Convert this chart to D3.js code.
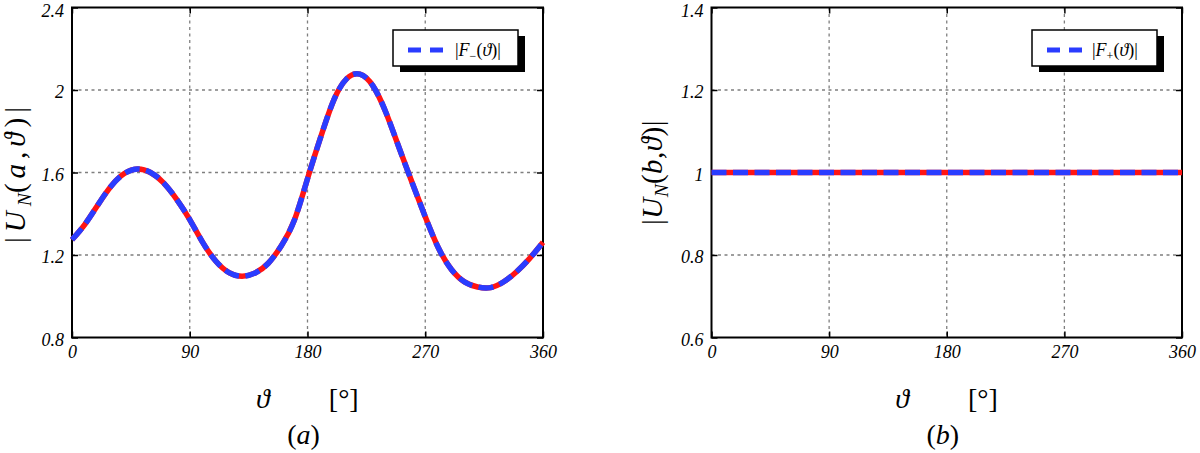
<!DOCTYPE html>
<html><head><meta charset="utf-8">
<script src="https://cdn.jsdelivr.net/npm/d3@7/dist/d3.min.js"></script>
<style>
body{margin:0;background:#fff;}
svg{display:block;}
text{font-family:"Liberation Serif","Times New Roman","DejaVu Serif",serif;}
</style></head>
<body><svg id="c" width="1200" height="453"></svg>
<script>
// ---- data ----
const thetaDeg = [0,10,20,30,40,50,60,70,80,90,100,110,120,130,140,150,160,170,180,190,200,210,220,230,240,250,260,270,280,290,300,310,320,330,340,350,360];
const fMinus   = [1.274,1.35,1.445,1.535,1.595,1.617,1.60,1.55,1.47,1.372,1.26,1.17,1.115,1.097,1.113,1.16,1.245,1.37,1.57,1.77,1.95,2.055,2.077,2.02,1.89,1.72,1.55,1.385,1.235,1.13,1.07,1.045,1.042,1.07,1.12,1.185,1.262];
const fPlus    = [1,1,1,1,1,1,1,1,1,1,1,1,1,1,1,1,1,1,1,1,1,1,1,1,1,1,1,1,1,1,1,1,1,1,1,1,1];
const xTicks = [0,90,180,270,360];
const yTicksA = [0.8,1.2,1.6,2,2.4];
const yTicksB = [0.6,0.8,1,1.2,1.4];
const yTickLabelsA = ["0.8","1.2","1.6","2","2.4"];
const yTickLabelsB = ["0.6","0.8","1","1.2","1.4"];

const svg = d3.select("#c");
const FONT = "'Liberation Serif','Times New Roman','DejaVu Serif',serif";

function panel(opt){
  const g = svg.append("g");
  const x = d3.scaleLinear().domain([0,360]).range([opt.x0, opt.x1]);
  const y = d3.scaleLinear().domain(opt.ydom).range([opt.y1, opt.y0]);
  // grid
  const grid = g.append("g").attr("stroke","#7f7f7f").attr("stroke-width",1.3).attr("stroke-dasharray","3,3.5");
  xTicks.slice(1,-1).forEach(t=>grid.append("line").attr("x1",x(t)).attr("x2",x(t)).attr("y1",opt.y0).attr("y2",opt.y1));
  opt.yTicks.slice(1,-1).forEach(t=>grid.append("line").attr("y1",y(t)).attr("y2",y(t)).attr("x1",opt.x0).attr("x2",opt.x1));
  // axes
  const ax = d3.axisBottom(x).tickValues(xTicks).tickSize(-6).tickPadding(8).tickFormat(d3.format("d"));
  const gx = g.append("g").attr("transform",`translate(0,${opt.y1})`).call(ax);
  const ay = d3.axisLeft(y).tickValues(opt.yTicks).tickSize(-6).tickPadding(8).tickFormat((d,i)=>opt.yLabels[i]);
  const gy = g.append("g").attr("transform",`translate(${opt.x0},0)`).call(ay);
  const ayr = d3.axisRight(y).tickValues(opt.yTicks).tickSize(-6).tickFormat("");
  const gyr = g.append("g").attr("transform",`translate(${opt.x1},0)`).call(ayr);
  const axt = d3.axisTop(x).tickValues(xTicks).tickSize(-6).tickFormat("");
  const gxt = g.append("g").attr("transform",`translate(0,${opt.y0})`).call(axt);
  [gx,gy,gyr,gxt].forEach(a=>{
    a.select(".domain").remove();
    a.selectAll(".tick line").attr("stroke","#000").attr("stroke-width",1.5);
    a.selectAll("text").attr("font-family",FONT).attr("font-style","italic").attr("font-size",18).attr("fill","#000");
  });
  gy.selectAll("text").attr("dy","0.42em");
  gy.selectAll(".tick").filter((d,i,n)=>i===n.length-1).select("text").attr("dy","0.5em");
  // frame
  g.append("rect").attr("x",opt.x0).attr("y",opt.y0).attr("width",opt.x1-opt.x0).attr("height",opt.y1-opt.y0)
    .attr("fill","none").attr("stroke","#000").attr("stroke-width",2);
  // curve
  const line = d3.line().x((d,i)=>x(thetaDeg[i])).y(d=>y(d)).curve(d3.curveNatural);
  g.append("path").datum(opt.data).attr("d",line).attr("fill","none").attr("stroke","#ff1414").attr("stroke-width",5.5);
  g.append("path").datum(opt.data).attr("d",line).attr("fill","none").attr("stroke","#2a3cff").attr("stroke-width",5.5).attr("stroke-dasharray","15,6.5");
  // legend
  const lg = g.append("g").attr("transform",`translate(${opt.lx},${opt.ly})`);
  lg.append("rect").attr("x",7).attr("y",6).attr("width",125).attr("height",36).attr("fill","#000");
  lg.append("rect").attr("x",0).attr("y",0).attr("width",125).attr("height",36).attr("fill","#fff").attr("stroke","#000").attr("stroke-width",1.5);
  lg.append("line").attr("x1",15).attr("x2",50).attr("y1",20).attr("y2",20).attr("stroke","#2a3cff").attr("stroke-width",5).attr("stroke-dasharray","13,9");
  const lt = lg.append("text").attr("x",opt.ltx).attr("y",26).attr("font-size",18);
  lt.append("tspan").text("|");
  lt.append("tspan").attr("font-style","italic").text("F");
  lt.append("tspan").attr("font-size",12).attr("dy",4).text(opt.sub);
  lt.append("tspan").attr("dy",-4).text("(");
  lt.append("tspan").attr("font-style","italic").text("\u03D1");
  lt.append("tspan").text(")|");
  // y label
  const yl = g.append("text").attr("transform",`translate(${opt.ylx},${(opt.y0+opt.y1)/2 + opt.yly}) rotate(-90)`)
    .attr("text-anchor","middle").attr("font-size",opt.ylfs).attr("letter-spacing",opt.ylls);
  yl.append("tspan").text("|");
  yl.append("tspan").attr("font-style","italic").text("U");
  yl.append("tspan").attr("font-style","italic").attr("font-size",opt.ylfs*0.68).attr("dy",6).attr("letter-spacing",0).text("N");
  yl.append("tspan").attr("dy",-6).text("(");
  yl.append("tspan").attr("font-style","italic").text(opt.var);
  yl.append("tspan").text(",");
  yl.append("tspan").attr("font-style","italic").text("\u03D1");
  yl.append("tspan").text(")|");
  // x label
  g.append("text").attr("x",x(0)+(x(360)-x(0))*0.405).attr("y",408).attr("text-anchor","middle").attr("font-size",28).attr("font-style","italic").text("\u03D1");
  g.append("text").attr("x",x(0)+(x(360)-x(0))*0.577).attr("y",408).attr("text-anchor","middle").attr("font-size",28).text("[\u00B0]");
  const cap = g.append("text").attr("x",(opt.x0+opt.x1)/2-4).attr("y",444).attr("text-anchor","middle").attr("font-size",28);
  cap.append("tspan").text("(");
  cap.append("tspan").attr("font-style","italic").text(opt.var);
  cap.append("tspan").text(")");
}

panel({x0:72,x1:543,y0:7.5,y1:337.5,ydom:[0.8,2.4],yTicks:yTicksA,yLabels:yTickLabelsA,data:fMinus,
  lx:393,ly:30,ltx:62,sub:"\u2212",ylx:25,yly:0,ylfs:29,ylls:5,var:"a"});
panel({x0:711.5,x1:1182,y0:7.5,y1:337.5,ydom:[0.6,1.4],yTicks:yTicksB,yLabels:yTickLabelsB,data:fPlus,
  lx:1032,ly:30,ltx:60,sub:"+",ylx:662,yly:0,ylfs:29,ylls:0.5,var:"b"});
</script></body></html>
